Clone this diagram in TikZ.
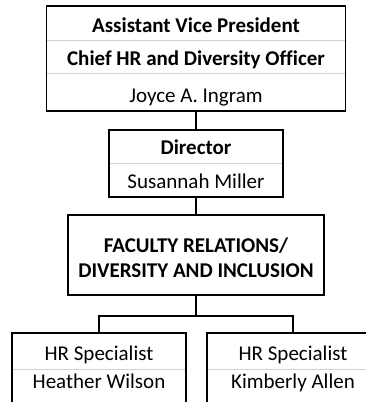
\documentclass[tikz,border=0pt]{standalone}
\usepackage{fontspec}
\setmainfont[Ligatures=CommonOff]{Carlito}
\usetikzlibrary{calc}
\tikzset{
  box/.style={draw=black, line width=1.5pt, rectangle, inner sep=0pt},
  divline/.style={draw=black!18, line width=0.7pt},
  conn/.style={draw=black, line width=1.5pt},
  lbl/.style={inner sep=0pt, anchor=base, font=\fontsize{21}{24}\selectfont},
  blbl/.style={inner sep=0pt, anchor=base, font=\fontsize{21}{24}\selectfont\bfseries},
}
\begin{document}
\begin{tikzpicture}[x=1pt,y=-1pt]
\useasboundingbox (0,0) rectangle (366,402);
\clip (0,0) rectangle (366,402);
% boxes
\node[box, minimum width=299pt, minimum height=105pt] (avp) at (196,58.5) {};
\node[box, minimum width=174pt, minimum height=67pt] (dir) at (196,163.5) {};
\node[box, minimum width=256pt, minimum height=80pt] (fac) at (196,255) {};
\node[box, minimum width=174pt, minimum height=100pt] (hra) at (99,383) {};
\node[box, minimum width=172pt, minimum height=100pt] (hrb) at (293,383) {};
% dividers
\draw[divline] (47.1,40.5) -- (344.9,40.5);
\draw[divline] (47.1,73.5) -- (344.9,73.5);
\draw[divline] (109.6,163) -- (282.4,163);
\draw[divline] (12.6,369) -- (185.4,369);
\draw[divline] (207.6,369) -- (378.4,369);
% texts
\node[blbl] (t1) at (196,32) {Assistant Vice President};
\node[blbl] (t2) at (196,65) {Chief HR and Diversity Officer};
\node[lbl] (t3) at (196,102) {Joyce A. Ingram};
\node[blbl] (t4) at (196,154) {Director};
\node[lbl] (t5) at (196,188) {Susannah Miller};
\node[blbl] (t6) at (196,252) {FACULTY RELATIONS/};
\node[blbl] (t7) at (196,277) {DIVERSITY AND INCLUSION};
\node[lbl] (t8) at (99,360) {HR Specialist};
\node[lbl] (t9) at (99,388) {Heather Wilson};
\node[lbl] (t10) at (293,360) {HR Specialist};
\node[lbl] (t11) at (293,388) {Kimberly Allen};
% connectors
\draw[conn] (avp.south) -- (dir.north);
\draw[conn] (dir.south) -- (fac.north);
\coordinate (bus) at ($(fac.south)+(0,20)$);
\draw[conn] (fac.south) -- (bus) -| (hra.north);
\draw[conn] (bus) -| (hrb.north);
\end{tikzpicture}
\end{document}
